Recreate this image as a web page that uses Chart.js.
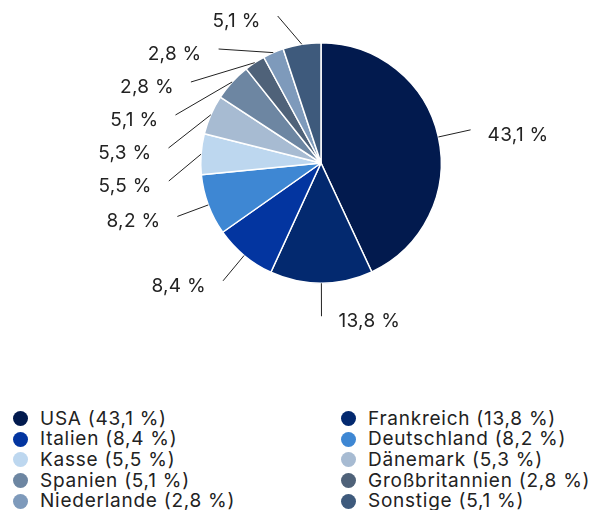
<!DOCTYPE html>
<html><head><meta charset="utf-8">
<script src="https://cdn.jsdelivr.net/npm/chart.js@4/dist/chart.umd.min.js"></script>
<style>
html,body{margin:0;padding:0;background:#fff;}
body{width:603px;height:510px;position:relative;overflow:hidden;font-family:Inter,"Noto Sans",sans-serif;}
#wrap{position:absolute;left:0;top:0;width:603px;height:330px;}
#legend{position:absolute;left:13px;top:408.5px;width:590px;display:grid;grid-template-columns:328px 262px;grid-auto-rows:20.6px;color:#222;font-size:19px;letter-spacing:0.75px;}
.item{display:flex;align-items:center;white-space:nowrap;line-height:20px;}
.dot{width:15px;height:15px;border-radius:50%;margin-right:12px;flex:none;}
</style></head>
<body>
<div id="wrap"><canvas id="c"></canvas></div>
<div id="legend"></div>
<script>
const categories = ['USA','Frankreich','Italien','Deutschland','Kasse','Dänemark','Spanien','Großbritannien','Niederlande','Sonstige'];
const shares = [43.1,13.8,8.4,8.2,5.5,5.3,5.1,2.8,2.8,5.1];
const colors = ['#021a4e','#03296f','#0335a0','#3e87d3','#bdd7ef','#a7bbd2','#6d86a2','#4f6279','#7e9abb','#3e5a7c'];

const fmt = v => v.toFixed(1).replace('.', ',') + ' %';

const labelPlugin = {
  id: 'outLabels',
  afterDraw(chart) {
    const ctx = chart.ctx;
    const meta = chart.getDatasetMeta(0);
    const area = chart.chartArea;
    const items = [];
    meta.data.forEach((arc, i) => {
      const p = arc.getProps(['x','y','startAngle','endAngle','outerRadius'], true);
      const mid = (p.startAngle + p.endAngle) / 2;
      const R = p.outerRadius + 33;
      items.push({i, cx: p.x, cy: p.y, r: p.outerRadius, R, mid,
        sx: p.x + Math.cos(mid) * p.outerRadius,
        sy: p.y + Math.sin(mid) * p.outerRadius,
        ideal: p.y + Math.sin(mid) * R,
        right: Math.cos(mid) >= -0.01});
    });
    const spacing = 33;
    ['left','right'].forEach(side => {
      const grp = items.filter(it => (side === 'right') === it.right).sort((a,b) => a.ideal - b.ideal);
      let prev = area.top - 26 - spacing;
      grp.forEach(it => {
        it.ey = Math.max(it.ideal, prev + spacing);
        prev = it.ey;
        const dy = it.ey - it.cy;
        const dx = Math.sqrt(Math.max(0, it.R * it.R - dy * dy));
        it.ex = it.right ? it.cx + dx : it.cx - dx;
      });
    });
    ctx.save();
    ctx.strokeStyle = '#222';
    ctx.lineWidth = 1;
    ctx.fillStyle = '#222';
    ctx.font = '19px Inter, "Noto Sans", sans-serif';
    if ('letterSpacing' in ctx) ctx.letterSpacing = '0.3px';
    ctx.textBaseline = 'middle';
    items.forEach(it => {
      ctx.beginPath();
      ctx.moveTo(it.sx, it.sy);
      ctx.lineTo(it.ex, it.ey);
      ctx.stroke();
      ctx.textAlign = it.right ? 'left' : 'right';
      ctx.fillText(fmt(shares[it.i]), it.right ? it.ex + 17 : it.ex - 17, it.ey + 5);
    });
    ctx.restore();
  }
};

const chart = new Chart(document.getElementById('c'), {
  type: 'pie',
  data: { labels: categories, datasets: [{ data: shares, backgroundColor: colors, borderColor: '#fff', borderWidth: 1.5 }] },
  options: {
    responsive: true, maintainAspectRatio: false, animation: false,
    layout: { padding: { top: 42, bottom: 46, left: 39, right: 0 } },
    plugins: { legend: { display: false }, tooltip: { enabled: false } }
  },
  plugins: [labelPlugin]
});

const legend = document.getElementById('legend');
chart.data.labels.forEach((lab, i) => {
  const d = document.createElement('div');
  d.className = 'item';
  d.innerHTML = '<span class="dot" style="background:' + colors[i] + '"></span><span>' + lab + ' (' + fmt(shares[i]) + ')</span>';
  legend.appendChild(d);
});
</script>
</body></html>
